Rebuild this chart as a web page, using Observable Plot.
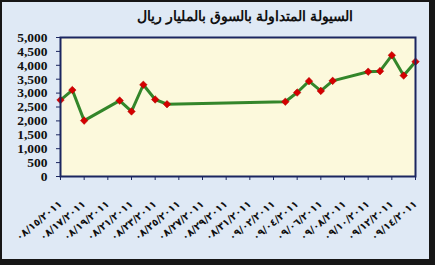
<!DOCTYPE html>
<html><head><meta charset="utf-8">
<script src="https://cdn.jsdelivr.net/npm/d3@7"></script>
<script src="https://cdn.jsdelivr.net/npm/@observablehq/plot@0.6"></script>
<style>
html,body{margin:0;padding:0;background:#fff;}
#wrap{position:relative;width:435px;height:265px;background:#161616;overflow:hidden;}
#inner{position:absolute;left:2px;top:2px;width:427px;height:257px;background:#dfe9f5;}
#title{position:absolute;left:100px;width:290px;top:8px;text-align:center;font:bold 14px "Liberation Sans",Arial,sans-serif;color:#111;direction:rtl;}
#chart{position:absolute;left:0;top:0;}
</style></head>
<body>
<div id="wrap"><div id="inner"></div><div id="chart"></div><div id="title">السيولة المتداولة بالسوق بالمليار ريال</div></div>
<script>
const dates = ["2011-08-15","2011-08-16","2011-08-17","2011-08-20","2011-08-21","2011-08-22","2011-08-23","2011-08-24",
  "2011-09-03","2011-09-04","2011-09-05","2011-09-06","2011-09-07","2011-09-10","2011-09-11","2011-09-12","2011-09-13","2011-09-14"];
const values = [2750,3110,2010,2730,2340,3300,2770,2600,2690,3020,3430,3080,3440,3770,3790,4360,3630,4130];
const tickDates = ["2011-08-15","2011-08-17","2011-08-19","2011-08-21","2011-08-23","2011-08-25","2011-08-27","2011-08-29",
  "2011-08-31","2011-09-02","2011-09-04","2011-09-06","2011-09-08","2011-09-10","2011-09-12","2011-09-14"];
const yTicks = [0,500,1000,1500,2000,2500,3000,3500,4000,4500,5000];

const data = dates.map((d,i)=>({date:new Date(d+"T00:00:00Z"), value:values[i]}));
const ticks = tickDates.map(d=>new Date(d+"T00:00:00Z"));
const ar = s => s.replace(/[0-9]/g, c => "٠١٢٣٤٥٦٧٨٩"[+c]);
const fmtDate = d => ar(String(d.getUTCMonth()+1).padStart(2,"0")+"/"+String(d.getUTCDate()).padStart(2,"0")+"/"+d.getUTCFullYear());

const navy = "#1b2660";
const chart = Plot.plot({
  width: 435, height: 265,
  marginLeft: 60, marginRight: 20, marginTop: 37, marginBottom: 89,
  style: {background: "transparent", color: "#111"},
  x: {type: "utc", domain: [ticks[0], ticks[ticks.length-1]]},
  y: {domain: [0, 5000]},
  marks: [
    Plot.frame({fill: "#fcf9dc", stroke: null}),
    Plot.axisY({ticks: yTicks, tickSize: 4, tickPadding: 9, stroke: navy, tickFormat: d3.format(","),
      fontFamily: "'Liberation Serif','Times New Roman',serif", fontWeight: "bold", fontSize: 13.5, label: null}),
    Plot.axisX({ticks: ticks, tickSize: 4, tickPadding: 22, stroke: navy, tickFormat: fmtDate, tickRotate: -40,
      fontFamily: "'DejaVu Sans',sans-serif", fontWeight: "bold", fontSize: 10, label: null}),
    Plot.line(data, {x: "date", y: "value", stroke: "#33862a", strokeWidth: 3}),
    Plot.dot(data, {x: "date", y: "value", symbol: "diamond2", r: 3.4, fill: "#d40000", stroke: "#b00000", strokeWidth: 0.5}),
    Plot.frame({stroke: navy, strokeWidth: 2})
  ]
});
document.getElementById("chart").appendChild(chart);
</script>
</body></html>
